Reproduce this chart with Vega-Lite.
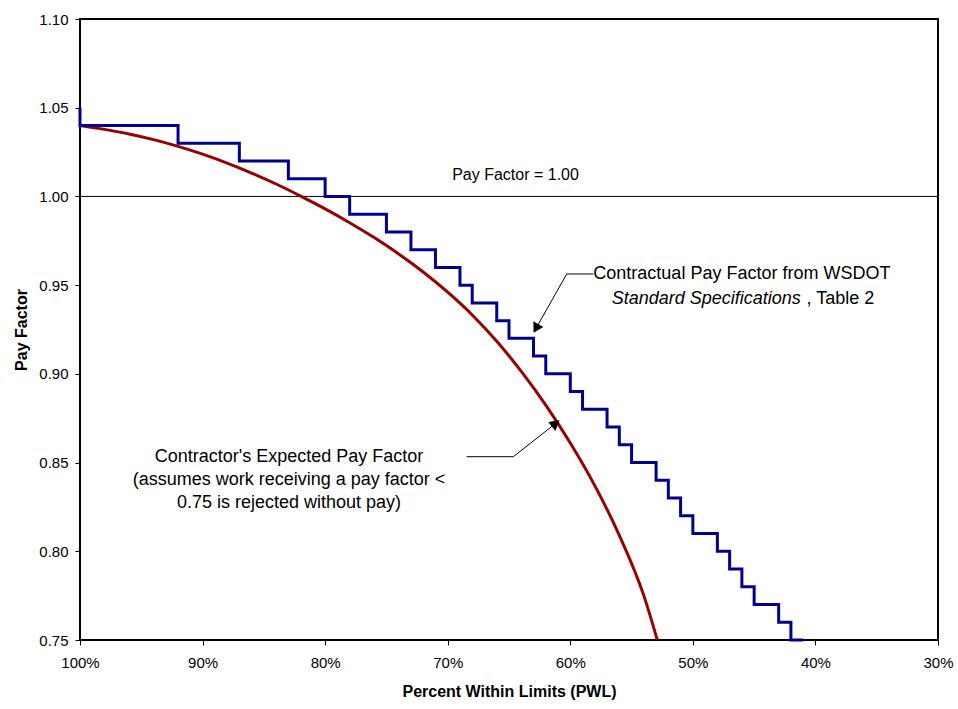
{
  "$schema": "https://vega.github.io/schema/vega-lite/v6.json",
  "width": 858,
  "height": 621,
  "autosize": {"type": "none"},
  "padding": {"left": 80, "top": 19, "right": 20, "bottom": 69},
  "background": "white",
  "config": {
    "view": {"stroke": "black", "strokeWidth": 2},
    "axis": {
      "grid": false,
      "domain": false,
      "labelFont": "Liberation Sans",
      "labelFontSize": 15,
      "labelColor": "black",
      "tickColor": "black",
      "tickSize": 5,
      "titleFont": "Liberation Sans",
      "titleFontSize": 16,
      "titleFontWeight": "bold",
      "titleColor": "black"
    },
    "text": {"font": "Liberation Sans", "color": "black"}
  },
  "encoding": {
    "x": {
      "field": "pwl",
      "type": "quantitative",
      "scale": {"domain": [30, 100], "reverse": true, "nice": false, "zero": false},
      "axis": {
        "values": [30, 40, 50, 60, 70, 80, 90, 100],
        "labelExpr": "datum.value + '%'",
        "labelFlush": false,
        "labelOverlap": false,
        "title": "Percent Within Limits (PWL)",
        "labelPadding": 10,
        "titlePadding": 13
      }
    },
    "y": {
      "field": "pf",
      "type": "quantitative",
      "scale": {"domain": [0.75, 1.1], "nice": false, "zero": false},
      "axis": {
        "values": [0.75, 0.8, 0.85, 0.9, 0.95, 1.0, 1.05, 1.1],
        "format": ".2f",
        "labelFlush": false,
        "labelOverlap": false,
        "title": "Pay Factor",
        "labelPadding": 7,
        "titlePadding": 9
      }
    }
  },
  "layer": [
    {
      "data": {"values": [{"pwl": 100, "pwl2": 30, "pf": 1.0}]},
      "mark": {"type": "rule", "color": "black", "strokeWidth": 1},
      "encoding": {"x2": {"field": "pwl2"}}
    },
    {
      "data": {"values": [
        {"pwl": 100, "pf": 1.04}, {"pwl": 98, "pf": 1.0378}, {"pwl": 96, "pf": 1.0352},
        {"pwl": 94, "pf": 1.032}, {"pwl": 92, "pf": 1.0282}, {"pwl": 90, "pf": 1.0238},
        {"pwl": 88, "pf": 1.0188}, {"pwl": 86, "pf": 1.0132}, {"pwl": 84, "pf": 1.007},
        {"pwl": 82, "pf": 1.0002}, {"pwl": 80, "pf": 0.993}, {"pwl": 78, "pf": 0.9852},
        {"pwl": 76, "pf": 0.9768}, {"pwl": 74, "pf": 0.9676}, {"pwl": 72, "pf": 0.9574},
        {"pwl": 70, "pf": 0.946}, {"pwl": 68, "pf": 0.9332}, {"pwl": 66, "pf": 0.9184},
        {"pwl": 64, "pf": 0.9014}, {"pwl": 62, "pf": 0.8824}, {"pwl": 60, "pf": 0.861},
        {"pwl": 58, "pf": 0.837}, {"pwl": 56, "pf": 0.809}, {"pwl": 54, "pf": 0.775},
        {"pwl": 52.9, "pf": 0.75}
      ]},
      "mark": {"type": "line", "color": "#990000", "strokeWidth": 3, "interpolate": "monotone"}
    },
    {
      "data": {"values": [
        {"i": 0, "pwl": 100, "pf": 1.05}, {"i": 1, "pwl": 100, "pf": 1.04},
        {"i": 2, "pwl": 92, "pf": 1.04}, {"i": 3, "pwl": 92, "pf": 1.03},
        {"i": 4, "pwl": 87, "pf": 1.03}, {"i": 5, "pwl": 87, "pf": 1.02},
        {"i": 6, "pwl": 83, "pf": 1.02}, {"i": 7, "pwl": 83, "pf": 1.01},
        {"i": 8, "pwl": 80, "pf": 1.01}, {"i": 9, "pwl": 80, "pf": 1.0},
        {"i": 10, "pwl": 78, "pf": 1.0}, {"i": 11, "pwl": 78, "pf": 0.99},
        {"i": 12, "pwl": 75, "pf": 0.99}, {"i": 13, "pwl": 75, "pf": 0.98},
        {"i": 14, "pwl": 73, "pf": 0.98}, {"i": 15, "pwl": 73, "pf": 0.97},
        {"i": 16, "pwl": 71, "pf": 0.97}, {"i": 17, "pwl": 71, "pf": 0.96},
        {"i": 18, "pwl": 69, "pf": 0.96}, {"i": 19, "pwl": 69, "pf": 0.95},
        {"i": 20, "pwl": 68, "pf": 0.95}, {"i": 21, "pwl": 68, "pf": 0.94},
        {"i": 22, "pwl": 66, "pf": 0.94}, {"i": 23, "pwl": 66, "pf": 0.93},
        {"i": 24, "pwl": 65, "pf": 0.93}, {"i": 25, "pwl": 65, "pf": 0.92},
        {"i": 26, "pwl": 63, "pf": 0.92}, {"i": 27, "pwl": 63, "pf": 0.91},
        {"i": 28, "pwl": 62, "pf": 0.91}, {"i": 29, "pwl": 62, "pf": 0.9},
        {"i": 30, "pwl": 60, "pf": 0.9}, {"i": 31, "pwl": 60, "pf": 0.89},
        {"i": 32, "pwl": 59, "pf": 0.89}, {"i": 33, "pwl": 59, "pf": 0.88},
        {"i": 34, "pwl": 57, "pf": 0.88}, {"i": 35, "pwl": 57, "pf": 0.87},
        {"i": 36, "pwl": 56, "pf": 0.87}, {"i": 37, "pwl": 56, "pf": 0.86},
        {"i": 38, "pwl": 55, "pf": 0.86}, {"i": 39, "pwl": 55, "pf": 0.85},
        {"i": 40, "pwl": 53, "pf": 0.85}, {"i": 41, "pwl": 53, "pf": 0.84},
        {"i": 42, "pwl": 52, "pf": 0.84}, {"i": 43, "pwl": 52, "pf": 0.83},
        {"i": 44, "pwl": 51, "pf": 0.83}, {"i": 45, "pwl": 51, "pf": 0.82},
        {"i": 46, "pwl": 50, "pf": 0.82}, {"i": 47, "pwl": 50, "pf": 0.81},
        {"i": 48, "pwl": 48, "pf": 0.81}, {"i": 49, "pwl": 48, "pf": 0.8},
        {"i": 50, "pwl": 47, "pf": 0.8}, {"i": 51, "pwl": 47, "pf": 0.79},
        {"i": 52, "pwl": 46, "pf": 0.79}, {"i": 53, "pwl": 46, "pf": 0.78},
        {"i": 54, "pwl": 45, "pf": 0.78}, {"i": 55, "pwl": 45, "pf": 0.77},
        {"i": 56, "pwl": 43, "pf": 0.77}, {"i": 57, "pwl": 43, "pf": 0.76},
        {"i": 58, "pwl": 42, "pf": 0.76}, {"i": 59, "pwl": 42, "pf": 0.75},
        {"i": 60, "pwl": 41, "pf": 0.75}
      ]},
      "mark": {"type": "line", "color": "#000090", "strokeWidth": 3, "interpolate": "linear", "strokeJoin": "miter"},
      "encoding": {"order": {"field": "i", "type": "quantitative"}}
    },
    {
      "data": {"values": [
        {"pwl": 58.12, "pf": 0.9563, "pwl2": 60.29, "pf2": 0.9563},
        {"pwl": 60.29, "pf": 0.9563, "pwl2": 62.8, "pf2": 0.9256},
        {"pwl": 68.45, "pf": 0.8533, "pwl2": 64.65, "pf2": 0.8533},
        {"pwl": 64.65, "pf": 0.8533, "pwl2": 61.19, "pf2": 0.8721}
      ]},
      "mark": {"type": "rule", "color": "black", "strokeWidth": 1},
      "encoding": {"x2": {"field": "pwl2"}, "y2": {"field": "pf2"}}
    },
    {
      "data": {"values": [{"pwl": 62.8, "pf": 0.9256}]},
      "mark": {"type": "point", "shape": "triangle-up", "angle": 209, "filled": true, "color": "black", "opacity": 1, "size": 130}
    },
    {
      "data": {"values": [{"pwl": 61.19, "pf": 0.8721}]},
      "mark": {"type": "point", "shape": "triangle-up", "angle": 52, "filled": true, "color": "black", "opacity": 1, "size": 130}
    },
    {
      "data": {"values": [{"pwl": 64.47, "pf": 1.0093, "label": "Pay Factor = 1.00"}]},
      "mark": {"type": "text", "fontSize": 16, "align": "center", "baseline": "alphabetic"},
      "encoding": {"text": {"field": "label"}}
    },
    {
      "data": {"values": [
        {"pwl": 82.95, "pf": 0.8506, "label": "Contractor's Expected Pay Factor"},
        {"pwl": 82.95, "pf": 0.8374, "label": "(assumes work receiving a pay factor <"},
        {"pwl": 82.95, "pf": 0.8242, "label": "0.75 is rejected without pay)"}
      ]},
      "mark": {"type": "text", "fontSize": 18, "align": "center", "baseline": "alphabetic"},
      "encoding": {"text": {"field": "label"}}
    },
    {
      "data": {"values": [
        {"pwl": 58.12, "pf": 0.9533, "label": "Contractual Pay Factor from WSDOT"},
        {"pwl": 40.73, "pf": 0.9394, "label": ", Table 2"}
      ]},
      "mark": {"type": "text", "fontSize": 18, "align": "left", "baseline": "alphabetic"},
      "encoding": {"text": {"field": "label"}}
    },
    {
      "data": {"values": [
        {"pwl": 56.62, "pf": 0.9394, "label": "Standard Specifications"}
      ]},
      "mark": {"type": "text", "fontSize": 18, "fontStyle": "italic", "align": "left", "baseline": "alphabetic"},
      "encoding": {"text": {"field": "label"}}
    }
  ]
}
